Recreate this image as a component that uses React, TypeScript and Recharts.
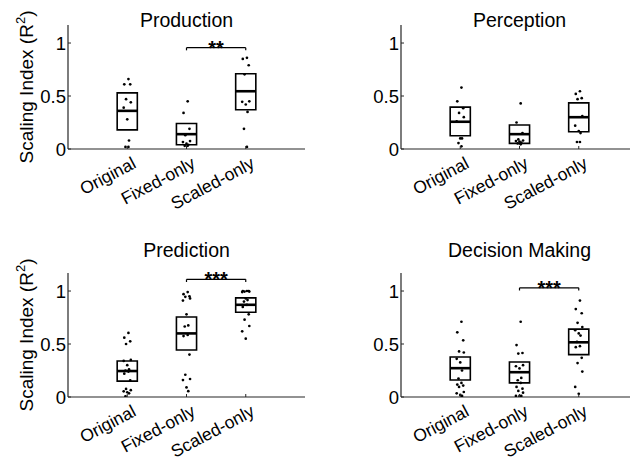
import React from "react";
import {
  ScatterChart,
  Scatter,
  XAxis,
  YAxis,
  ReferenceArea,
  ReferenceLine,
  ReferenceDot,
} from "recharts";

const categories = ["Original", "Fixed-only", "Scaled-only"];
const yTicks = [0, 0.5, 1];

// Production
const prodOriginal = [0.66, 0.61, 0.61, 0.47, 0.44, 0.39, 0.28, 0.08, 0.02, 0.02];
const prodFixed = [0.45, 0.34, 0.19, 0.13, 0.075, 0.065, 0.05, 0.04, 0.03, 0.03];
const prodScaled = [0.86, 0.85, 0.79, 0.705, 0.45, 0.445, 0.42, 0.35, 0.19, 0.02];
const prodUpper = [0.53, 0.24, 0.71];
const prodLower = [0.18, 0.04, 0.37];
const prodCenter = [0.36, 0.14, 0.545];

// Perception
const percOriginal = [0.58, 0.45, 0.385, 0.34, 0.3, 0.26, 0.1, 0.1, 0.056, 0.025];
const percFixed = [0.43, 0.25, 0.15, 0.09, 0.08, 0.075, 0.07, 0.06, 0.053, 0.044];
const percScaled = [0.545, 0.52, 0.48, 0.47, 0.31, 0.22, 0.17, 0.15, 0.066, 0.066];
const percUpper = [0.395, 0.226, 0.435];
const percLower = [0.125, 0.053, 0.163];
const percCenter = [0.257, 0.14, 0.3];

// Prediction
const predOriginal = [0.605, 0.56, 0.525, 0.5, 0.35, 0.34, 0.3, 0.26, 0.25, 0.24, 0.22, 0.156, 0.076, 0.064, 0.054, 0.045, 0.035, 0.006];
const predFixed = [0.99, 0.97, 0.95, 0.945, 0.93, 0.91, 0.78, 0.675, 0.665, 0.585, 0.575, 0.4, 0.21, 0.17, 0.16, 0.09, 0.055];
const predScaled = [1.0, 1.0, 1.0, 0.995, 0.995, 0.99, 0.93, 0.915, 0.9, 0.87, 0.85, 0.78, 0.73, 0.67, 0.62, 0.55];
const predUpper = [0.34, 0.755, 0.935];
const predLower = [0.15, 0.443, 0.8];
const predCenter = [0.245, 0.6, 0.87];

// Decision Making
const decOriginal = [0.71, 0.61, 0.535, 0.43, 0.42, 0.36, 0.326, 0.25, 0.174, 0.133, 0.117, 0.108, 0.095, 0.047, 0.035, 0.02, 0.01];
const decFixed = [0.71, 0.49, 0.415, 0.41, 0.3, 0.29, 0.27, 0.18, 0.158, 0.133, 0.095, 0.079, 0.057, 0.041, 0.01, 0.01, 0.01];
const decScaled = [0.91, 0.83, 0.79, 0.7, 0.66, 0.63, 0.6, 0.58, 0.52, 0.48, 0.47, 0.37, 0.32, 0.24, 0.095, 0.03];
const decUpper = [0.377, 0.33, 0.64];
const decLower = [0.16, 0.133, 0.4];
const decCenter = [0.272, 0.234, 0.516];

// horizontal spread of the dots around each category (layout only)
const JITTER = [0.02, -0.05, 0.05, -0.02, 0.06, -0.06, 0, 0.03, -0.03];
const HALF = 0.17;
const FONT = "'Liberation Sans', Arial, Helvetica, sans-serif";
const AXIS = "#262626";

type Sig = { from: number; to: number; y: number; label: string } | null;

const YTick = (props: any) => {
  const { x, y, payload } = props;
  return (
    <g>
      <line x1={x + 2} x2={x + 5} y1={y} y2={y} stroke={AXIS} strokeWidth={1} />
      <text x={x} y={y} dy="0.36em" textAnchor="end" fontSize={18.5} fontFamily={FONT} fill="#000">
        {String(payload.value)}
      </text>
    </g>
  );
};

const XTick = (props: any) => {
  const { x, y, payload } = props;
  const name = categories[payload.value - 1];
  const ax = x + 10;
  const ay = y + 18;
  return (
    <g>
      <line x1={x} x2={x} y1={y} y2={y - 3} stroke={AXIS} strokeWidth={1} />
      <text
        x={ax}
        y={ay}
        textAnchor="end"
        fontSize={17.5}
        fontFamily={FONT}
        fill="#000"
        transform={`rotate(-28, ${ax}, ${ay})`}
      >
        {name}
      </text>
    </g>
  );
};

const Dot = (p: any) => <circle cx={p.cx} cy={p.cy} r={1.35} fill="#000" />;

function Panel({
  left,
  top,
  groups,
  upper,
  lower,
  center,
  sig,
}: {
  left: number;
  top: number;
  groups: number[][];
  upper: number[];
  lower: number[];
  center: number[];
  sig: Sig;
}) {
  return (
    <div style={{ position: "absolute", left, top }}>
      <ScatterChart width={320} height={230} margin={{ top: 25, right: 15, bottom: 21, left: 28 }}>
        <XAxis
          type="number"
          dataKey="x"
          domain={[0, 4]}
          ticks={[1, 2, 3]}
          interval={0}
          height={60}
          tickSize={0}
          tickMargin={0}
          tickLine={false}
          tick={<XTick />}
          axisLine={{ stroke: AXIS, strokeWidth: 1.2 }}
          allowDataOverflow
        />
        <YAxis
          type="number"
          dataKey="y"
          domain={[0, 1.17]}
          ticks={yTicks}
          interval={0}
          width={40}
          tickSize={0}
          tickMargin={2}
          tickLine={false}
          tick={<YTick />}
          axisLine={{ stroke: AXIS, strokeWidth: 1.2 }}
          allowDataOverflow
        />
        {groups.map((_, i) => (
          <ReferenceArea
            key={`box${i}`}
            x1={i + 1 - HALF}
            x2={i + 1 + HALF}
            y1={lower[i]}
            y2={upper[i]}
            fill="none"
            fillOpacity={0}
            stroke="#000"
            strokeWidth={1.6}
            ifOverflow="visible"
          />
        ))}
        {groups.map((_, i) => (
          <ReferenceLine
            key={`mid${i}`}
            segment={[
              { x: i + 1 - HALF, y: center[i] },
              { x: i + 1 + HALF, y: center[i] },
            ]}
            stroke="#000"
            strokeWidth={2.6}
            ifOverflow="visible"
          />
        ))}
        {groups.map((vals, i) => (
          <Scatter
            key={`pts${i}`}
            data={vals.map((v, j) => ({ x: i + 1 + JITTER[j % JITTER.length], y: v }))}
            shape={Dot}
            isAnimationActive={false}
          />
        ))}
        {sig && (
          <ReferenceLine
            segment={[
              { x: sig.from, y: sig.y },
              { x: sig.to, y: sig.y },
            ]}
            stroke="#000"
            strokeWidth={1.2}
            ifOverflow="visible"
          />
        )}
        {sig && (
          <ReferenceLine
            segment={[
              { x: sig.from, y: sig.y },
              { x: sig.from, y: sig.y - 0.025 },
            ]}
            stroke="#000"
            strokeWidth={1.2}
            ifOverflow="visible"
          />
        )}
        {sig && (
          <ReferenceLine
            segment={[
              { x: sig.to, y: sig.y },
              { x: sig.to, y: sig.y - 0.025 },
            ]}
            stroke="#000"
            strokeWidth={1.2}
            ifOverflow="visible"
          />
        )}
        {sig && (
          <ReferenceDot
            x={(sig.from + sig.to) / 2}
            y={sig.y}
            r={0}
            ifOverflow="visible"
            shape={(p: any) => (
              <text x={p.cx} y={p.cy + 7} textAnchor="middle" fontSize={20} fontWeight="bold" fontFamily={FONT} fill="#000">
                {sig.label}
              </text>
            )}
          />
        )}
      </ScatterChart>
    </div>
  );
}

const YLabel = ({ cx, cy }: { cx: number; cy: number }) => (
  <text
    x={cx}
    y={cy}
    textAnchor="middle"
    fontSize={19}
    fontFamily={FONT}
    fill="#000"
    transform={`rotate(-90, ${cx}, ${cy})`}
  >
    <tspan>Scaling Index (R</tspan>
    <tspan fontSize={13} dy={-8}>2</tspan>
    <tspan dy={8}>)</tspan>
  </text>
);

export default function App() {
  const titleStyle = { fontSize: 19.5, fontFamily: FONT, fill: "#000" };
  return (
    <div
      style={{
        position: "absolute",
        left: 0,
        top: 0,
        width: 630,
        height: 461,
        overflow: "hidden",
        background: "#fff",
      }}
    >
      <Panel
        left={0}
        top={0}
        groups={[prodOriginal, prodFixed, prodScaled]}
        upper={prodUpper}
        lower={prodLower}
        center={prodCenter}
        sig={{ from: 2, to: 3, y: 0.956, label: "**" }}
      />
      <Panel
        left={333}
        top={0}
        groups={[percOriginal, percFixed, percScaled]}
        upper={percUpper}
        lower={percLower}
        center={percCenter}
        sig={null}
      />
      <Panel
        left={0}
        top={248}
        groups={[predOriginal, predFixed, predScaled]}
        upper={predUpper}
        lower={predLower}
        center={predCenter}
        sig={{ from: 2, to: 3, y: 1.11, label: "***" }}
      />
      <Panel
        left={333}
        top={248}
        groups={[decOriginal, decFixed, decScaled]}
        upper={decUpper}
        lower={decLower}
        center={decCenter}
        sig={{ from: 2, to: 3, y: 1.03, label: "***" }}
      />
      <svg
        width={630}
        height={461}
        style={{ position: "absolute", left: 0, top: 0, pointerEvents: "none" }}
      >
        <text x={186.5} y={27} textAnchor="middle" {...titleStyle}>Production</text>
        <text x={519.5} y={27} textAnchor="middle" {...titleStyle}>Perception</text>
        <text x={186.5} y={257} textAnchor="middle" {...titleStyle}>Prediction</text>
        <text x={519.5} y={257} textAnchor="middle" {...titleStyle}>Decision Making</text>
        <YLabel cx={33} cy={87} />
        <YLabel cx={33} cy={335} />
      </svg>
    </div>
  );
}
